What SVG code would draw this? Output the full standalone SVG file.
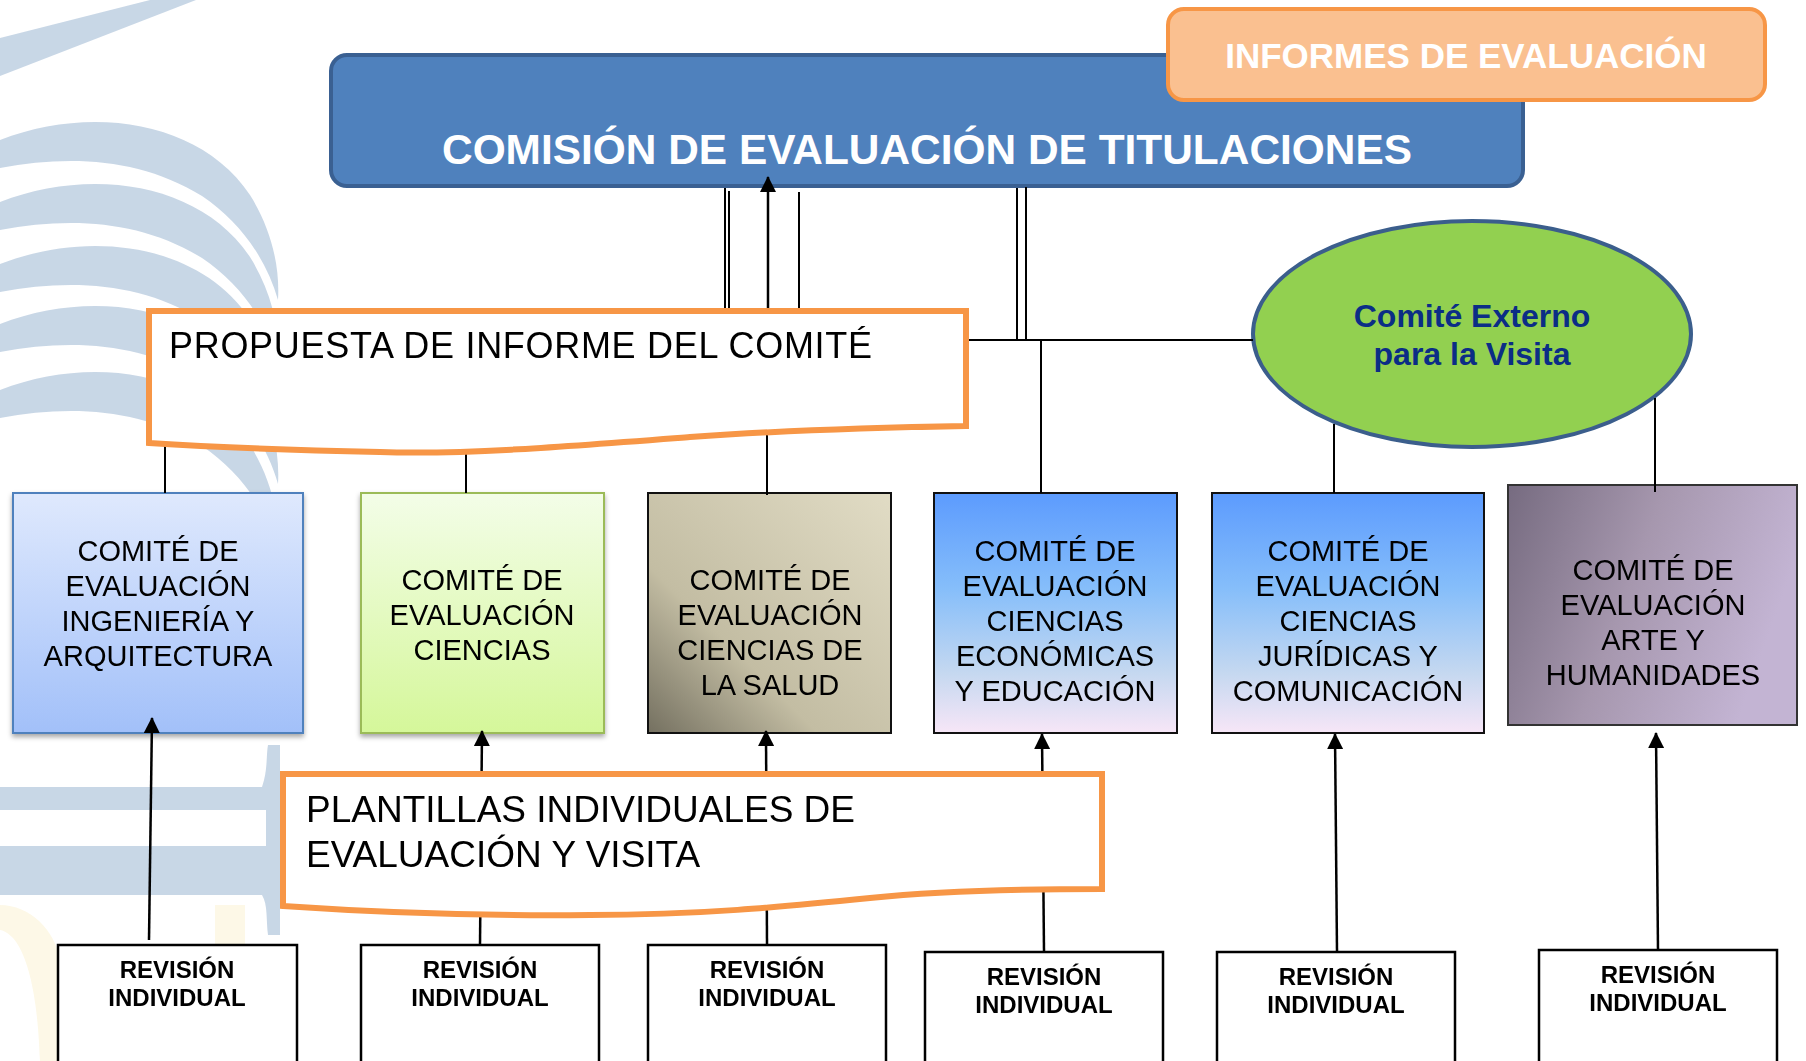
<svg xmlns="http://www.w3.org/2000/svg" width="1806" height="1061" viewBox="0 0 1806 1061">
<style>
  text { font-family: "Liberation Sans", Arial, sans-serif; }
  .cmt { font-size: 29px; fill: #000; text-anchor: middle; }
  .rev { font-size: 24px; font-weight: bold; fill: #000; text-anchor: middle; }
  .revbox { fill: #fff; stroke: #000; stroke-width: 2.5; }
  .conn { stroke: #000; stroke-width: 2; fill: none; }
  .arr { stroke: #000; stroke-width: 2.5; fill: none; marker-end: url(#ah); }
  .doc { fill: #fff; stroke: #f79646; stroke-width: 6; stroke-linejoin: miter; }
  .wm { fill: #c6d5e5; }
</style>
<defs>
  <marker id="ah" markerUnits="userSpaceOnUse" markerWidth="16" markerHeight="16" viewBox="0 0 16 16" refX="15" refY="8" orient="auto">
    <path d="M0,0 L16,8 L0,16 z" fill="#000"/>
  </marker>
  <linearGradient id="g1" x1="0" y1="0" x2="0" y2="1">
    <stop offset="0" stop-color="#dfe9fd"/>
    <stop offset="1" stop-color="#a2c0f9"/>
  </linearGradient>
  <linearGradient id="g2" x1="0" y1="0" x2="0" y2="1">
    <stop offset="0" stop-color="#f3fde8"/>
    <stop offset="1" stop-color="#d5f79a"/>
  </linearGradient>
  <linearGradient id="g3" x1="0" y1="1" x2="1" y2="0">
    <stop offset="0" stop-color="#747060"/>
    <stop offset="0.35" stop-color="#c3bda3"/>
    <stop offset="1" stop-color="#e1dcc5"/>
  </linearGradient>
  <linearGradient id="g4" x1="0" y1="0" x2="0" y2="1">
    <stop offset="0" stop-color="#5c9bfe"/>
    <stop offset="0.4" stop-color="#86befa"/>
    <stop offset="0.75" stop-color="#c5d8f0"/>
    <stop offset="1" stop-color="#f7e6f7"/>
  </linearGradient>
  <linearGradient id="g6" x1="0" y1="0" x2="1" y2="0.3">
    <stop offset="0" stop-color="#766b80"/>
    <stop offset="0.5" stop-color="#a697ae"/>
    <stop offset="1" stop-color="#c3b4d3"/>
  </linearGradient>
  <filter id="sh" x="-10%" y="-10%" width="120%" height="125%">
    <feDropShadow dx="0" dy="3" stdDeviation="2.5" flood-color="#000" flood-opacity="0.35"/>
  </filter>
  <path id="arc" class="wm" d="M0,140 C 90,105 200,120 250,195 C 272,230 280,268 278,300 C 266,258 240,222 202,196 C 140,158 70,155 0,168 Z"/>
</defs>

<rect width="1806" height="1061" fill="#fff"/>

<!-- background watermark -->
<g id="watermark" opacity="0.95">
  <polygon class="wm" points="0,38 150,0 196,0 0,76"/>
  <use href="#arc"/>
  <use href="#arc" transform="translate(0,62)"/>
  <use href="#arc" transform="translate(0,124)"/>
  <use href="#arc" transform="translate(0,184)"/>
  <use href="#arc" transform="translate(0,250)"/>
  <path class="wm" d="M0,787 H262 C 268,770 266,755 268,745 H280 V935 H268 C 266,920 268,905 262,895 H0 V846 H266 V810 H0 Z"/>
  <path d="M0,905 C 30,905 55,930 60,960 L60,1061 L40,1061 C 38,990 25,935 0,930 Z" fill="#fdf8e6"/>
  <rect x="215" y="905" width="30" height="156" fill="#fdf8e6"/>
</g>

<!-- main commission box -->
<g id="comision">
  <rect x="331" y="55" width="1192" height="131" rx="16" fill="#4f81bd" stroke="#3a6092" stroke-width="4"/>
  <text x="442" y="164" font-size="42" font-weight="bold" fill="#fff" textLength="970" lengthAdjust="spacingAndGlyphs">COMISIÓN DE EVALUACIÓN DE TITULACIONES</text>
</g>

<!-- informes box -->
<g id="informes">
  <rect x="1168" y="9" width="597" height="91" rx="16" fill="#fac090" stroke="#f79646" stroke-width="4"/>
  <text x="1466" y="68" font-size="35" font-weight="bold" fill="#fff" text-anchor="middle">INFORMES DE EVALUACIÓN</text>
</g>

<!-- external committee -->
<g id="comite-externo">
  <ellipse cx="1472" cy="334" rx="219" ry="113" fill="#92d050" stroke="#3b5e8c" stroke-width="4"/>
  <text x="1472" y="327" font-size="32" font-weight="bold" fill="#0b2d86" text-anchor="middle">Comité Externo</text>
  <text x="1472" y="365" font-size="32" font-weight="bold" fill="#0b2d86" text-anchor="middle">para la Visita</text>
</g>

<!-- committees -->
<g id="comite-ingenieria">
  <rect x="13" y="493" width="290" height="240" fill="url(#g1)" stroke="#4f81bd" stroke-width="2" filter="url(#sh)"/>
  <text class="cmt" x="158" y="561">COMITÉ DE</text>
  <text class="cmt" x="158" y="596">EVALUACIÓN</text>
  <text class="cmt" x="158" y="631">INGENIERÍA Y</text>
  <text class="cmt" x="158" y="666">ARQUITECTURA</text>
</g>
<g id="comite-ciencias">
  <rect x="361" y="493" width="243" height="240" fill="url(#g2)" stroke="#9bbb59" stroke-width="2" filter="url(#sh)"/>
  <text class="cmt" x="482" y="590">COMITÉ DE</text>
  <text class="cmt" x="482" y="625">EVALUACIÓN</text>
  <text class="cmt" x="482" y="660">CIENCIAS</text>
</g>
<g id="comite-salud">
  <rect x="648" y="493" width="243" height="240" fill="url(#g3)" stroke="#111" stroke-width="2"/>
  <text class="cmt" x="770" y="590">COMITÉ DE</text>
  <text class="cmt" x="770" y="625">EVALUACIÓN</text>
  <text class="cmt" x="770" y="660">CIENCIAS DE</text>
  <text class="cmt" x="770" y="695">LA SALUD</text>
</g>
<g id="comite-economicas">
  <rect x="934" y="493" width="243" height="240" fill="url(#g4)" stroke="#111" stroke-width="2"/>
  <text class="cmt" x="1055" y="561">COMITÉ DE</text>
  <text class="cmt" x="1055" y="596">EVALUACIÓN</text>
  <text class="cmt" x="1055" y="631">CIENCIAS</text>
  <text class="cmt" x="1055" y="666">ECONÓMICAS</text>
  <text class="cmt" x="1055" y="701">Y EDUCACIÓN</text>
</g>
<g id="comite-juridicas">
  <rect x="1212" y="493" width="272" height="240" fill="url(#g4)" stroke="#111" stroke-width="2"/>
  <text class="cmt" x="1348" y="561">COMITÉ DE</text>
  <text class="cmt" x="1348" y="596">EVALUACIÓN</text>
  <text class="cmt" x="1348" y="631">CIENCIAS</text>
  <text class="cmt" x="1348" y="666">JURÍDICAS Y</text>
  <text class="cmt" x="1348" y="701">COMUNICACIÓN</text>
</g>
<g id="comite-arte">
  <rect x="1508" y="485" width="289" height="240" fill="url(#g6)" stroke="#333" stroke-width="2"/>
  <text class="cmt" x="1653" y="580">COMITÉ DE</text>
  <text class="cmt" x="1653" y="615">EVALUACIÓN</text>
  <text class="cmt" x="1653" y="650">ARTE Y</text>
  <text class="cmt" x="1653" y="685">HUMANIDADES</text>
</g>

<!-- individual reviews -->
<g id="revision-1">
  <rect class="revbox" x="58" y="945" width="239" height="130"/>
  <text class="rev" x="177" y="978">REVISIÓN</text>
  <text class="rev" x="177" y="1006">INDIVIDUAL</text>
</g>
<g id="revision-2">
  <rect class="revbox" x="361" y="945" width="238" height="130"/>
  <text class="rev" x="480" y="978">REVISIÓN</text>
  <text class="rev" x="480" y="1006">INDIVIDUAL</text>
</g>
<g id="revision-3">
  <rect class="revbox" x="648" y="945" width="238" height="130"/>
  <text class="rev" x="767" y="978">REVISIÓN</text>
  <text class="rev" x="767" y="1006">INDIVIDUAL</text>
</g>
<g id="revision-4">
  <rect class="revbox" x="925" y="952" width="238" height="130"/>
  <text class="rev" x="1044" y="985">REVISIÓN</text>
  <text class="rev" x="1044" y="1013">INDIVIDUAL</text>
</g>
<g id="revision-5">
  <rect class="revbox" x="1217" y="952" width="238" height="130"/>
  <text class="rev" x="1336" y="985">REVISIÓN</text>
  <text class="rev" x="1336" y="1013">INDIVIDUAL</text>
</g>
<g id="revision-6">
  <rect class="revbox" x="1539" y="950" width="238" height="130"/>
  <text class="rev" x="1658" y="983">REVISIÓN</text>
  <text class="rev" x="1658" y="1011">INDIVIDUAL</text>
</g>

<!-- connectors -->
<g id="connectors">
  <line class="conn" x1="725" y1="188" x2="725" y2="312" stroke-width="1.5"/>
  <line class="conn" x1="729" y1="191" x2="729" y2="312" stroke-width="1.5"/>
  <line class="arr" x1="768" y1="312" x2="768" y2="177"/>
  <line class="conn" x1="799" y1="192" x2="799" y2="312"/>
  <line class="conn" x1="1017" y1="188" x2="1017" y2="340" stroke-width="1.5"/>
  <line class="conn" x1="1026" y1="187" x2="1026" y2="340" stroke-width="2.5"/>
  <line class="conn" x1="966" y1="340" x2="1017" y2="340"/>
  <line class="conn" x1="1017" y1="340" x2="1253" y2="340" stroke-width="3"/>
  <line class="conn" x1="1041" y1="340" x2="1041" y2="493"/>
  <line class="conn" x1="1334" y1="424" x2="1334" y2="493"/>
  <line class="conn" x1="1655" y1="398" x2="1655" y2="492"/>
  <line class="conn" x1="165" y1="440" x2="165" y2="493"/>
  <line class="conn" x1="466" y1="440" x2="466" y2="493"/>
  <line class="conn" x1="767" y1="430" x2="767" y2="495"/>
  <line class="arr" x1="149" y1="940" x2="152" y2="718"/>
  <line class="arr" x1="480" y1="945" x2="482" y2="731"/>
  <line class="arr" x1="767" y1="945" x2="766" y2="731"/>
  <line class="arr" x1="1044" y1="952" x2="1042" y2="734"/>
  <line class="arr" x1="1337" y1="952" x2="1335" y2="734"/>
  <line class="arr" x1="1658" y1="950" x2="1656" y2="733"/>
</g>

<!-- document shapes -->
<g id="propuesta">
  <path class="doc" d="M149,311 H966 V426 C 850,428 760,432 690,437 C 560,447 460,455 380,452 C 290,450 210,447 149,443 Z"/>
  <text x="169" y="358" font-size="36" fill="#000" textLength="703" lengthAdjust="spacing">PROPUESTA DE INFORME DEL COMITÉ</text>
</g>
<g id="plantillas">
  <path class="doc" d="M283,774 H1102 V889 C 1000,889 930,892 870,898 C 780,907 700,915 590,915 C 500,916 400,914 283,906 Z"/>
  <text x="306" y="822" font-size="37" fill="#000">PLANTILLAS INDIVIDUALES DE</text>
  <text x="306" y="867" font-size="37" fill="#000">EVALUACIÓN Y VISITA</text>
</g>
</svg>
